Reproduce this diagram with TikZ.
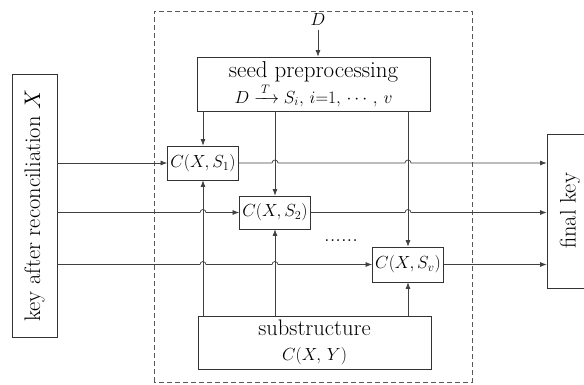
\RequirePackage{fix-cm}
\documentclass[tikz,border=0pt]{standalone}
\usepackage{amsmath}
\usepackage{fontspec}
\usetikzlibrary{arrows.meta,calc}
\begin{document}
\begin{tikzpicture}[x=1pt,y=1pt,
  box/.style={draw=black!80,line width=0.8pt,inner sep=0pt,align=center},
  arr/.style={-{Latex[length=6.5pt,width=5pt]},line width=0.7pt,draw=black!75},
  txt/.style={font=\fontsize{22.5}{24}\selectfont},
  mth/.style={font=\fontsize{17.5}{22}\selectfont}]
\useasboundingbox (0,0) rectangle (584,384);
\draw[black!65,line width=0.7pt,dash pattern=on 5pt off 3pt] (154,2) rectangle (472,373);
% side boxes
\node[box,txt,rotate=90,minimum width=263pt,minimum height=45pt] (kx) at (34.5,178.5) {key after reconciliation $X$};
\node[box,txt,rotate=90,minimum width=154pt,minimum height=46pt] (fk) at (570,173) {final key};
% seed preprocessing
\node[box,minimum width=233pt,minimum height=54pt,font=\fontsize{23}{24.5}\selectfont] (seed) at (313.5,300)
  {seed preprocessing\\
   {\fontsize{17.5}{24.5}\selectfont $D\xrightarrow{\;T\;}S_i,\,i{=}1,\,\cdots,\,v$}};
\node[mth] (d) at (318,364) {$D$};
% substructure
\node[box,minimum width=233pt,minimum height=53pt,font=\fontsize{22.5}{24.5}\selectfont] (sub) at (314.5,41.5)
  {\raisebox{-2pt}{substructure}\\
   {\fontsize{17.5}{24.5}\selectfont\raisebox{-2pt}{$C(X,\,Y)$}}};
% combiners
\node[box,mth,minimum width=71pt,minimum height=34pt] (c1) at (203,221) {$C(X,S_1)$};
\node[box,mth,minimum width=71pt,minimum height=33pt] (c2) at (275,171.5) {$C(X,S_2)$};
\node[box,mth,minimum width=71pt,minimum height=35pt] (cv) at (408,119.5) {$C(X,S_v)$};
\node[txt,inner sep=0pt] (dots) at (341,143) {......};
% vertical connectors
\draw[arr] (d.south) -- (d.south |- seed.north);
\draw[arr] (c1 |- seed.south) -- (c1.north);
\draw[arr] (c2 |- seed.south) -- (c2.north);
\draw[arr] (cv |- seed.south) -- (cv.north);
\draw[arr] (c1 |- sub.north) -- (c1.south);
\draw[arr] (c2 |- sub.north) -- (c2.south);
\draw[arr] (cv |- sub.north) -- (cv.south);
% horizontal connectors
\draw[arr] (kx.south |- c1.west) -- (c1.west);
\draw[arr] (kx.south |- c2.west) -- ($(c1 |- c2.west)+(-3,0)$) arc[start angle=180,end angle=0,radius=3] -- (c2.west);
\draw[arr] (kx.south |- cv.west) -- ($(c1 |- cv.west)+(-3,0)$) arc[start angle=180,end angle=0,radius=3]
  -- ($(c2 |- cv.west)+(-3,0)$) arc[start angle=180,end angle=0,radius=3] -- (cv.west);
\draw[arr] (c1.east) -- ($(c2 |- c1.east)+(-3,0)$) arc[start angle=180,end angle=0,radius=3]
  -- ($(cv |- c1.east)+(-3,0)$) arc[start angle=180,end angle=0,radius=3] -- (fk.north |- c1.east);
\draw[arr] (c2.east) -- ($(cv |- c2.east)+(-3,0)$) arc[start angle=180,end angle=0,radius=3] -- (fk.north |- c2.east);
\draw[arr] (cv.east) -- (fk.north |- cv.east);
\end{tikzpicture}
\end{document}
